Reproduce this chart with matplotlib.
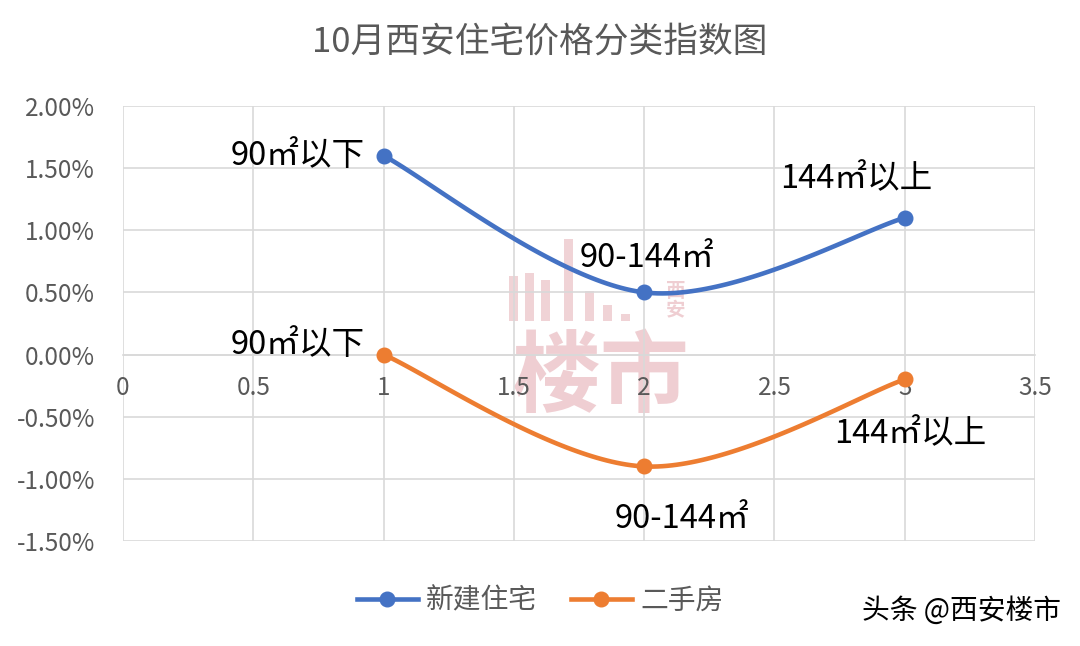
import numpy as np
import matplotlib
matplotlib.use("Agg")
import matplotlib.pyplot as plt
from matplotlib.ticker import FuncFormatter

plt.rcParams['font.family'] = ['Noto Sans CJK SC', 'DejaVu Sans']

# data (percent)
x_pos = [1, 2, 3]
new_home = [1.60, 0.50, 1.10]
resale = [0.00, -0.90, -0.20]
point_labels = ["90㎡以下", "90-144㎡", "144㎡以上"]
series_names = ["新建住宅", "二手房"]
title = "10月西安住宅价格分类指数图"

BLUE = "#4472C4"
ORANGE = "#ED7D31"
GREY = "#595959"
GRID = "#d9d9d9"
PINK = "#d98c95"


def excel_smooth(xs, ys, n=60):
    # Bezier smoothing like Excel's "smoothed line"
    p = np.column_stack([xs, ys]).astype(float)
    pts = []
    for i in range(len(p) - 1):
        p0 = p[i - 1] if i > 0 else p[i]
        p3 = p[i + 2] if i + 2 < len(p) else p[i + 1]
        c1 = p[i] + (p[i + 1] - p0) / 6
        c2 = p[i + 1] - (p3 - p[i]) / 6
        t = np.linspace(0, 1, n)[:, None]
        seg = ((1 - t) ** 3 * p[i] + 3 * (1 - t) ** 2 * t * c1
               + 3 * (1 - t) * t ** 2 * c2 + t ** 3 * p[i + 1])
        pts.append(seg if i == 0 else seg[1:])
    pts = np.vstack(pts)
    return pts[:, 0], pts[:, 1]


fig = plt.figure(figsize=(10.8, 6.46), dpi=100)
ax = fig.add_axes([0.1139, 0.1625, 0.8444, 0.6735])

# watermark logo (rough approximation)
ax.text(1.83, -0.20, "楼市", fontsize=64, color=PINK, alpha=0.42,
        ha="center", va="center", fontweight="bold", zorder=0)
ax.text(2.12, 0.43, "西\n安", fontsize=14, color=PINK, alpha=0.42,
        ha="center", va="center", linespacing=1.0, fontweight="bold", zorder=0)
for bx, btop in [(1.50, 0.63), (1.56, 0.66), (1.62, 0.60), (1.71, 0.93),
                 (1.79, 0.51), (1.86, 0.40), (1.93, 0.33)]:
    ax.bar(bx, btop - 0.27, width=0.035, bottom=0.27, color=PINK, alpha=0.38, zorder=0)

for ys, col, name in [(new_home, BLUE, series_names[0]), (resale, ORANGE, series_names[1])]:
    sx, sy = excel_smooth(x_pos, ys)
    ax.plot(sx, sy, color=col, lw=3.3, zorder=3, solid_capstyle="round")
    ax.plot(x_pos, ys, "o", color=col, ms=10.5, zorder=4)
    ax.plot([], [], "-o", color=col, lw=3.3, ms=10.5, label=name)

# data labels (pixel offsets)
offs_new = [(-19, 0, "right"), (3, 34, "center"), (-48, 39, "center")]
offs_res = [(-19, 10, "right"), (38, -53, "center"), (6, -55, "center")]
for ys, offs in [(new_home, offs_new), (resale, offs_res)]:
    for xv, yv, lab, (dx, dy, ha) in zip(x_pos, ys, point_labels, offs):
        ax.annotate(lab, (xv, yv), xytext=(dx, dy), textcoords="offset pixels",
                    ha=ha, va="center", fontsize=23.5, color="black", zorder=5)

ax.set_xlim(0, 3.5)
ax.set_ylim(-1.5, 2.0)
ax.set_xticks(np.arange(0, 3.51, 0.5))
ax.set_yticks(np.arange(-1.5, 2.01, 0.5))
ax.xaxis.set_major_formatter(FuncFormatter(lambda v, p: f"{v:g}"))
ax.yaxis.set_major_formatter(FuncFormatter(lambda v, p: f"{v:.2f}%"))
ax.grid(True, color=GRID, lw=1.2)
ax.set_axisbelow(True)
for s in ["top", "right", "left"]:
    ax.spines[s].set_visible(False)
ax.spines["bottom"].set_position(("data", 0))
ax.spines["bottom"].set_color(GRID)
ax.spines["bottom"].set_linewidth(1.2)
ax.tick_params(axis="x", length=0, pad=15, labelsize=17.5, labelcolor=GREY)
ax.tick_params(axis="y", length=0, pad=20, labelsize=17.5, labelcolor=GREY)

fig.text(0.5, 0.935, title, ha="center", va="center", fontsize=25, color=GREY)

leg = fig.legend(loc="center", bbox_to_anchor=(0.5, 0.07), ncol=2, frameon=False,
                 fontsize=20, handlelength=2.2, columnspacing=1.2, handletextpad=0.3)
for t in leg.get_texts():
    t.set_color(GREY)

fig.text(0.982, 0.055, "头条 @西安楼市", ha="right", va="center", fontsize=20, color="black")

fig.savefig("out.png", dpi=100)
